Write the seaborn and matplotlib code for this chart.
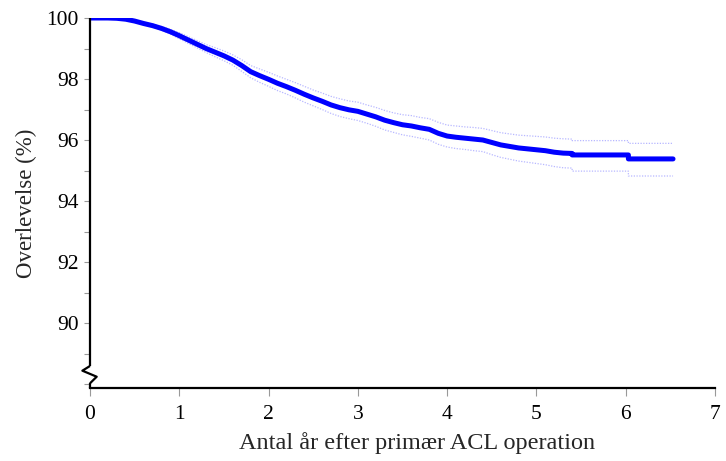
import matplotlib
matplotlib.use("Agg")
import matplotlib.pyplot as plt
import seaborn as sns
import pandas as pd

# ---- data ----
years = [0.0, 0.1, 0.2, 0.3, 0.4, 0.5, 0.6, 0.7, 0.8, 0.9,
         1.0, 1.1, 1.2, 1.3, 1.4, 1.5, 1.6, 1.7, 1.8, 1.9,
         2.0, 2.1, 2.2, 2.3, 2.4, 2.5, 2.6, 2.7, 2.8, 2.9,
         3.0, 3.1, 3.2, 3.3, 3.4, 3.5, 3.6, 3.7, 3.8, 3.9,
         4.0, 4.1, 4.2, 4.3, 4.4, 4.5, 4.6, 4.7, 4.8, 4.9,
         5.0, 5.1, 5.2, 5.3, 5.4, 5.4, 6.03, 6.03, 6.53]
survival = [100.00, 100.00, 100.00, 99.99, 99.96, 99.90, 99.82, 99.75, 99.66, 99.55,
            99.42, 99.28, 99.14, 99.00, 98.88, 98.76, 98.62, 98.44, 98.24, 98.11,
            97.99, 97.86, 97.75, 97.63, 97.50, 97.38, 97.27, 97.15, 97.06, 96.99,
            96.94, 96.85, 96.76, 96.65, 96.57, 96.50, 96.46, 96.40, 96.35, 96.22,
            96.13, 96.09, 96.06, 96.03, 96.00, 95.92, 95.84, 95.79, 95.74, 95.71,
            95.68, 95.65, 95.60, 95.57, 95.56, 95.51, 95.51, 95.38, 95.38]
ci_upper = [100.00, 100.00, 100.00, 100.00, 99.98, 99.93, 99.86, 99.80, 99.72, 99.63,
            99.52, 99.39, 99.26, 99.13, 99.03, 98.92, 98.79, 98.63, 98.44, 98.33,
            98.22, 98.10, 97.99, 97.88, 97.76, 97.64, 97.54, 97.43, 97.35, 97.28,
            97.24, 97.15, 97.07, 96.97, 96.89, 96.83, 96.80, 96.74, 96.70, 96.58,
            96.49, 96.46, 96.43, 96.41, 96.38, 96.31, 96.24, 96.20, 96.16, 96.14,
            96.12, 96.10, 96.06, 96.04, 96.03, 95.98, 95.98, 95.89, 95.89]
ci_lower = [100.00, 100.00, 100.00, 99.98, 99.94, 99.87, 99.78, 99.70, 99.60, 99.47,
            99.32, 99.17, 99.02, 98.87, 98.73, 98.60, 98.45, 98.25, 98.04, 97.89,
            97.76, 97.62, 97.51, 97.38, 97.24, 97.12, 97.00, 96.87, 96.77, 96.70,
            96.64, 96.55, 96.45, 96.33, 96.25, 96.17, 96.12, 96.06, 96.00, 95.86,
            95.77, 95.72, 95.69, 95.65, 95.62, 95.52, 95.43, 95.37, 95.31, 95.27,
            95.23, 95.19, 95.13, 95.09, 95.08, 94.98, 94.98, 94.82, 94.82]

x_ticks = [0, 1, 2, 3, 4, 5, 6, 7]
y_ticks = [90, 92, 94, 96, 98, 100]
y_minor = [88, 89, 91, 93, 95, 97, 99]
x_label = "Antal år efter primær ACL operation"
y_label = "Overlevelse (%)"

df = pd.DataFrame({"years": years, "survival": survival,
                   "upper": ci_upper, "lower": ci_lower})

sns.set_style("ticks")
plt.rcParams["font.family"] = ["Liberation Serif", "DejaVu Serif"]

fig = plt.figure(figsize=(7.26, 4.61), dpi=100)
ax = fig.add_axes([90 / 726, 1 - 388 / 461, 625 / 726, 370 / 461])

ci_color = (0.72, 0.72, 1.0)
for col in ["upper", "lower"]:
    sns.lineplot(data=df, x="years", y=col, ax=ax, color=ci_color, lw=0.9,
                 linestyle=(0, (1, 1.2)), estimator=None, sort=False)
sns.lineplot(data=df, x="years", y="survival", ax=ax, color="#0000FF", lw=3.6,
             estimator=None, sort=False, zorder=5)

ax.set_xlim(0, 7)
ax.set_ylim(87.87, 100.0)
ax.set_xticks(x_ticks)
ax.set_yticks(y_ticks)
ax.set_yticks(y_minor, minor=True)
ax.set_xticklabels([str(v) for v in x_ticks])
ax.set_yticklabels([str(v) for v in y_ticks])

ax.tick_params(axis="both", which="both", colors="#999999", labelcolor="black",
               labelsize=15.5, length=4, width=0.8)
ax.tick_params(axis="x", length=6, pad=6)
ax.tick_params(axis="y", pad=4)

ax.set_xlabel(x_label, fontsize=17.5, labelpad=6)
ax.xaxis.label.set_x(0.523)
ax.set_ylabel(y_label, fontsize=16.5, labelpad=7)

for s in ["top", "right", "left"]:
    ax.spines[s].set_visible(False)
ax.spines["bottom"].set_color("black")
ax.spines["bottom"].set_linewidth(1.6)

# broken left axis with zig-zag break marker
kw = dict(transform=ax.transAxes, color="black", clip_on=False, lw=1.6,
          solid_capstyle="butt", zorder=6)
ax.plot([0, 0], [0.0595, 1.0], **kw)
ax.plot([0, 0], [0.0, 0.0127], **kw)
ax.plot([0, -0.0122, 0.0107, 0], [0.0595, 0.0468, 0.0305, 0.0127], **kw)

fig.savefig("out.png", dpi=100)
